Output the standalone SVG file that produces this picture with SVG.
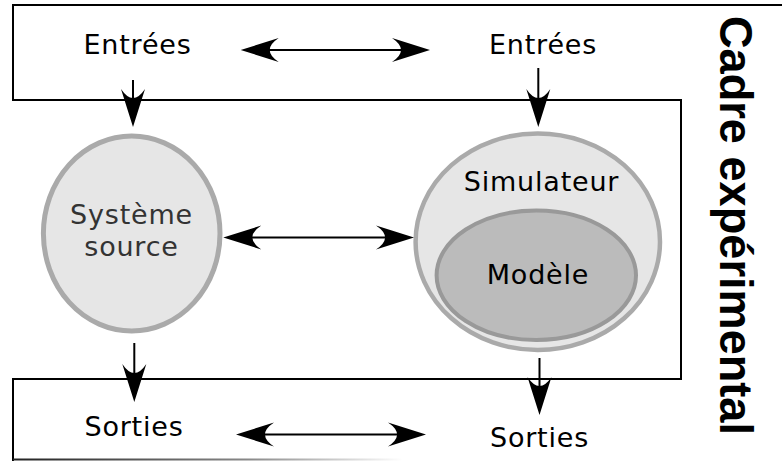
<svg xmlns="http://www.w3.org/2000/svg" width="782" height="461" viewBox="0 0 782 461">
<style>
.lbl{font-family:"DejaVu Sans","Noto Sans",sans-serif;font-size:27px;fill:#000;text-anchor:middle;letter-spacing:0.8px}
.frame{fill:none;stroke:#000;stroke-width:2}
.conn{stroke:#000;stroke-width:2;fill:none}
</style>
<defs>
<marker id="ah" markerUnits="userSpaceOnUse" viewBox="-12 -14 42 28" refX="0" refY="0" markerWidth="42" markerHeight="28" orient="auto-start-reverse">
<path d="M28,0 L-10,-12 Q8,0 -10,12 Z" fill="#000"/>
</marker>
<linearGradient id="fade" x1="0" x2="1" y1="0" y2="0">
<stop offset="0" stop-color="#222"/>
<stop offset="0.6" stop-color="#888"/>
<stop offset="1" stop-color="#fff"/>
</linearGradient>
</defs>
<g id="cadre">
<path class="frame" d="M782,5 H13 V100 H681 V379 H13 V461"/>
<rect x="13" y="458.5" width="390" height="2" fill="url(#fade)"/>
<text transform="translate(720,16) rotate(90)" font-family="Liberation Sans,Arial,sans-serif" font-weight="bold" font-size="47" fill="#000" textLength="419" lengthAdjust="spacingAndGlyphs">Cadre expérimental</text>
</g>
<g id="entrees1"><text class="lbl" x="137.5" y="53.5">Entrées</text></g>
<g id="entrees2"><text class="lbl" x="543" y="53.5">Entrées</text></g>
<g id="sorties1"><text class="lbl" x="134" y="435.5">Sorties</text></g>
<g id="sorties2"><text class="lbl" x="539.5" y="447">Sorties</text></g>
<g id="systeme">
<ellipse cx="131.7" cy="233.5" rx="88.3" ry="97.5" fill="#e6e6e6" stroke="#aaa" stroke-width="5"/>
<text class="lbl" x="131.5" y="224" style="fill:#333">Système</text>
<text class="lbl" x="131.5" y="256" style="fill:#333">source</text>
</g>
<g id="simulateur">
<ellipse cx="537.8" cy="241.7" rx="122.2" ry="108.3" fill="#e6e6e6" stroke="#aaa" stroke-width="4.5"/>
<text class="lbl" x="541.5" y="191">Simulateur</text>
</g>
<g id="modele">
<ellipse cx="536.3" cy="275.3" rx="99.7" ry="64.7" fill="#bbb" stroke="#999" stroke-width="4"/>
<text class="lbl" x="538" y="284">Modèle</text>
</g>
<g id="connectors">
<line class="conn" x1="133" y1="80" x2="133" y2="99" marker-end="url(#ah)"/>
<line class="conn" x1="538.3" y1="68" x2="538.3" y2="99" marker-end="url(#ah)"/>
<line class="conn" x1="134.3" y1="343" x2="134.3" y2="374" marker-end="url(#ah)"/>
<line class="conn" x1="539.5" y1="358" x2="539.5" y2="387" marker-end="url(#ah)"/>
<line class="conn" x1="268.7" y1="50" x2="402" y2="50" marker-start="url(#ah)" marker-end="url(#ah)"/>
<line class="conn" x1="251.3" y1="237.5" x2="386" y2="237.5" marker-start="url(#ah)" marker-end="url(#ah)"/>
<line class="conn" x1="264" y1="434.5" x2="398" y2="434.5" marker-start="url(#ah)" marker-end="url(#ah)"/>
</g>
</svg>
